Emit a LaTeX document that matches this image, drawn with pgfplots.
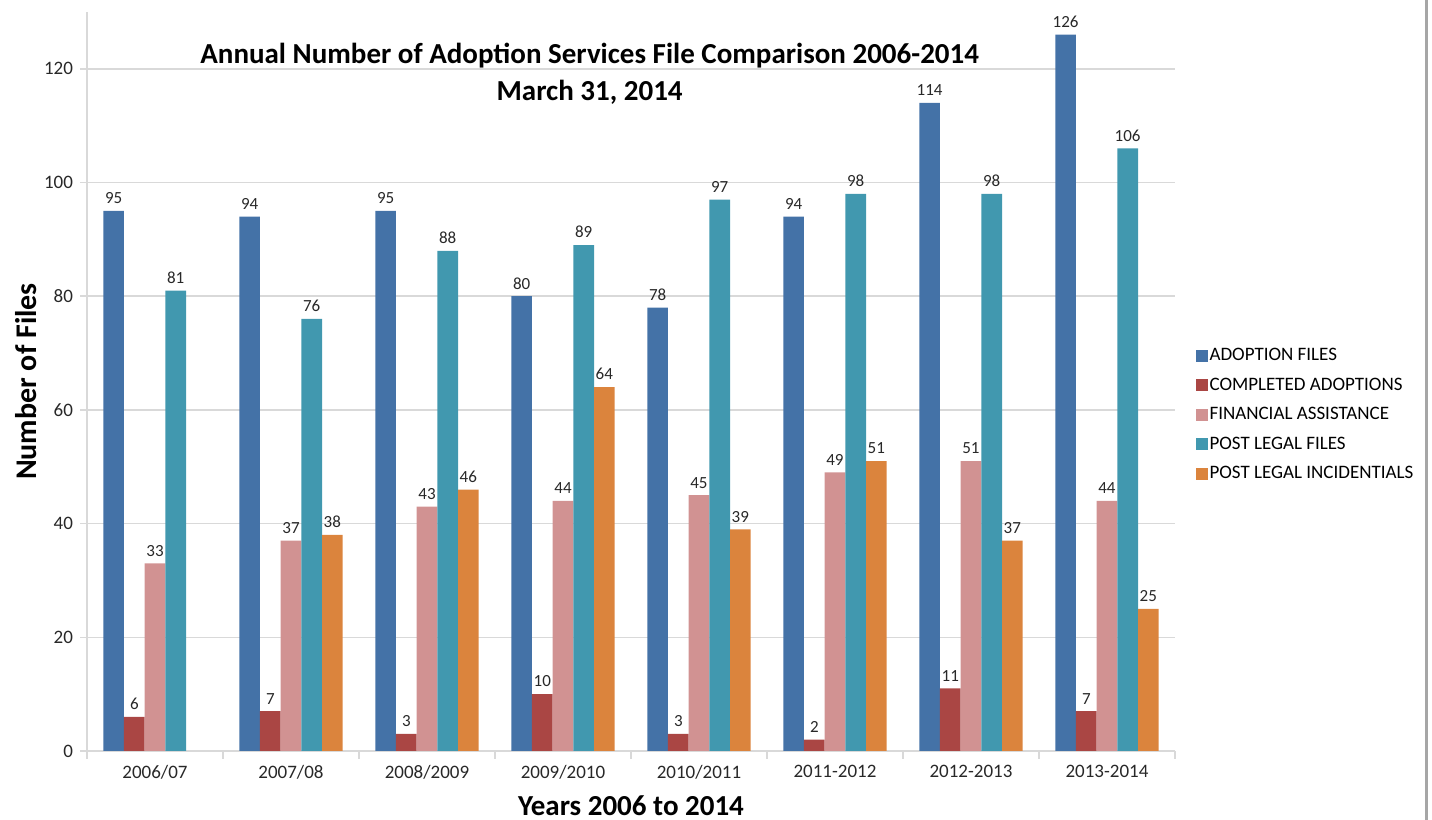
\documentclass[border=0pt]{standalone}
\usepackage{pgfplots}
\pgfplotsset{compat=1.18}
\usepackage{fontspec}
\setmainfont{Carlito}
\definecolor{cA}{RGB}{68,114,167}
\definecolor{cB}{RGB}{170,70,68}
\definecolor{cC}{RGB}{209,146,146}
\definecolor{cD}{RGB}{65,152,175}
\definecolor{cE}{RGB}{219,132,61}
\definecolor{gridgray}{RGB}{217,217,217}
\definecolor{txt}{RGB}{40,40,40}
\begin{document}
\begin{tikzpicture}
\path[use as bounding box] (0,0) rectangle (716pt,410pt);
\draw[gray!70, line width=1.5pt] (713pt,0) -- (713pt,410pt);
\begin{axis}[
  at={(43.5pt,34.5pt)}, anchor=south west,
  width=544pt, height=369.5pt, scale only axis,
  /pgf/number format/assume math mode=true,
  xmin=-0.5, xmax=7.5, ymin=0, ymax=130,
  ytick={0,20,...,120},
  xtick={0,...,7},
  xticklabels={2006/07,2007/08,2008/2009,2009/2010,2010/2011,2011-2012,2012-2013,2013-2014},
  minor xtick={-0.5,0.5,...,7.5},
  major x tick style={draw=none},
  ymajorgrids, grid style={color=gridgray, line width=0.8pt},
  axis x line*=bottom, axis y line*=left,
  axis line style={gridgray, line width=0.8pt, -},
  tick align=outside, tick style={gridgray, line width=0.8pt},
  major tick length=3.5pt, minor tick length=4pt,
  tick label style={font=\fontsize{9.5}{11}\selectfont, color=txt},
  xlabel={Years 2006 to 2014}, ylabel={Number of Files},
  xlabel style={font=\bfseries\fontsize{14.5}{16}\selectfont, at={(rel axis cs:0.5,-0.074)}, anchor=center},
  ylabel style={font=\bfseries\fontsize{15}{16}\selectfont, at={(rel axis cs:-0.056,0.5)}, anchor=center},
  ybar, bar width=0.152,
  nodes near coords,
  every node near coord/.append style={font=\fontsize{8.5}{9}\selectfont, color=txt},
  legend style={at={(rel axis cs:1.013,0.455)}, anchor=west, draw=none, fill=none,
    font=\fontsize{9.5}{11}\selectfont, row sep=3.75pt,
    nodes={text height=7pt, text depth=2pt, inner sep=1pt}},
  legend cell align=left,
  legend image code/.code={\path[#1] (0pt,-3pt) rectangle (6pt,3pt);},
]
\addplot[fill=cA, draw=none, bar shift=-0.304] coordinates {(0,95) (1,94) (2,95) (3,80) (4,78) (5,94) (6,114) (7,126)};
\addplot[fill=cB, draw=none, bar shift=-0.152] coordinates {(0,6) (1,7) (2,3) (3,10) (4,3) (5,2) (6,11) (7,7)};
\addplot[fill=cC, draw=none, bar shift=0] coordinates {(0,33) (1,37) (2,43) (3,44) (4,45) (5,49) (6,51) (7,44)};
\addplot[fill=cD, draw=none, bar shift=0.152] coordinates {(0,81) (1,76) (2,88) (3,89) (4,97) (5,98) (6,98) (7,106)};
\addplot[fill=cE, draw=none, bar shift=0.304] coordinates {(1,38) (2,46) (3,64) (4,39) (5,51) (6,37) (7,25)};
\legend{ADOPTION FILES, COMPLETED ADOPTIONS, FINANCIAL ASSISTANCE, POST LEGAL FILES, POST LEGAL INCIDENTIALS}
\node[font=\bfseries\fontsize{14.5}{18.5}\selectfont, align=center] at (rel axis cs:0.462,0.917) {Annual Number of Adoption Services File Comparison 2006-2014\\March 31, 2014};
\end{axis}
\end{tikzpicture}
\end{document}
